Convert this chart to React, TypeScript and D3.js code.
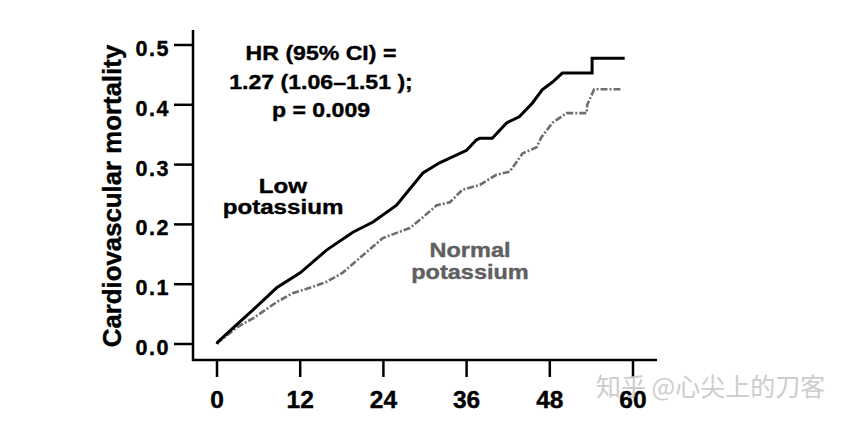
import React from "react";
import * as d3 from "d3";

const xTicks = [0, 12, 24, 36, 48, 60];
const yTicks = [0.0, 0.1, 0.2, 0.3, 0.4, 0.5];

// Low potassium (months, cumulative mortality)
const lowMonths = [0, 0.1, 2.6, 5.2, 8.6, 12.0, 15.8, 19.6, 22.5, 25.9, 29.7, 32.1, 36.0, 37.4, 37.9, 39.7, 41.8, 43.6, 45.5, 46.9, 48.4, 49.8, 54.1, 54.1, 58.8];
const lowValues = [0, 0.003, 0.03, 0.057, 0.094, 0.119, 0.157, 0.187, 0.204, 0.232, 0.286, 0.303, 0.324, 0.341, 0.344, 0.344, 0.37, 0.38, 0.403, 0.425, 0.438, 0.453, 0.453, 0.478, 0.478];

// Normal potassium
const normMonths = [0, 0.1, 2.9, 5.2, 8.6, 10.9, 13.4, 15.8, 18.1, 20.2, 23.9, 27.8, 29.7, 31.7, 33.6, 35.4, 37.9, 40.3, 42.2, 44.1, 46.1, 46.8, 48.4, 50.4, 53.3, 53.4, 54.4, 58.3];
const normValues = [0, 0.002, 0.028, 0.043, 0.07, 0.085, 0.094, 0.104, 0.119, 0.14, 0.177, 0.194, 0.212, 0.232, 0.237, 0.258, 0.266, 0.283, 0.288, 0.319, 0.329, 0.346, 0.37, 0.386, 0.386, 0.4, 0.426, 0.426];

const annotationLines = ["HR (95% CI) =", "1.27 (1.06\u20131.51 );", "p = 0.009"];

export default function App() {
  const x = d3.scaleLinear().domain([0, 60]).range([217, 633]);
  const y = d3.scaleLinear().domain([0, 0.5]).range([344, 45]);
  const line = d3
    .line<[number, number]>()
    .x((d) => x(d[0]))
    .y((d) => y(d[1]));
  const lowPts = lowMonths.map((m, i) => [m, lowValues[i]] as [number, number]);
  const normPts = normMonths.map((m, i) => [m, normValues[i]] as [number, number]);
  const font = "'Liberation Sans', Arial, sans-serif";
  const axisX = 193;
  const axisY = 360;
  const heavy = { stroke: "currentColor", strokeWidth: 0.4 } as const;
  return (
    <svg
      width={847}
      height={427}
      style={{ position: "absolute", left: 0, top: 0, background: "#fff" }}
      fontFamily={font}
      fontWeight="bold"
    >
      <rect width={847} height={427} fill="#fff" />
      {/* axes */}
      <line x1={axisX} x2={axisX} y1={30} y2={axisY + 1} stroke="#000" strokeWidth={2.5} />
      <line x1={axisX - 1} x2={657} y1={axisY} y2={axisY} stroke="#000" strokeWidth={2.5} />
      {yTicks.map((t) => (
        <g key={"y" + t} style={{ color: "#000" }}>
          <line x1={174} x2={axisX} y1={y(t)} y2={y(t)} stroke="#000" strokeWidth={2.5} />
          <text
            x={170}
            y={y(t) + 11}
            textAnchor="end"
            fontSize={21.5}
            letterSpacing={1.5}
            fill="#000"
            {...heavy}
          >
            {t.toFixed(1)}
          </text>
        </g>
      ))}
      {xTicks.map((t) => (
        <g key={"x" + t} style={{ color: "#000" }}>
          <line x1={x(t)} x2={x(t)} y1={axisY} y2={377} stroke="#000" strokeWidth={2.5} />
          <text x={x(t)} y={408} textAnchor="middle" fontSize={24.5} fill="#000" {...heavy}>
            {t}
          </text>
        </g>
      ))}
      <text
        transform={`translate(121,196) rotate(-90)`}
        textAnchor="middle"
        fontSize={25.8}
        fill="#000"
        style={{ color: "#000" }}
        {...heavy}
      >
        Cardiovascular mortality
      </text>
      {/* curves */}
      <path
        d={line(normPts) || ""}
        fill="none"
        stroke="#6e6e6e"
        strokeWidth={2.6}
        strokeDasharray="7,2,2,2"
      />
      <path d={line(lowPts) || ""} fill="none" stroke="#000" strokeWidth={3} />
      {/* annotation */}
      <g style={{ color: "#000" }}>
        {annotationLines.map((s, i) => (
          <text
            key={s}
            transform={`translate(321,${60 + i * 28.5}) scale(1.1,1)`}
            textAnchor="middle"
            fontSize={21}
            fill="#000"
            {...heavy}
          >
            {s}
          </text>
        ))}
        <text transform="translate(283,193) scale(1.15,1)" textAnchor="middle" fontSize={21} fill="#000" {...heavy}>
          Low
        </text>
        <text transform="translate(283,214) scale(1.15,1)" textAnchor="middle" fontSize={21} fill="#000" {...heavy}>
          potassium
        </text>
      </g>
      <g style={{ color: "#606060" }}>
        <text transform="translate(470,257) scale(1.12,1)" textAnchor="middle" fontSize={21} fill="#606060" {...heavy}>
          Normal
        </text>
        <text transform="translate(470,279) scale(1.12,1)" textAnchor="middle" fontSize={21} fill="#606060" {...heavy}>
          potassium
        </text>
      </g>
      {/* watermark */}
      <text
        x={596}
        y={396}
        fontSize={25}
        fontWeight="normal"
        fontFamily="'Noto Sans CJK SC', sans-serif"
        fill="#c8c8c8"
        opacity={0.9}
      >
        知乎 @心尖上的刀客
      </text>
    </svg>
  );
}
